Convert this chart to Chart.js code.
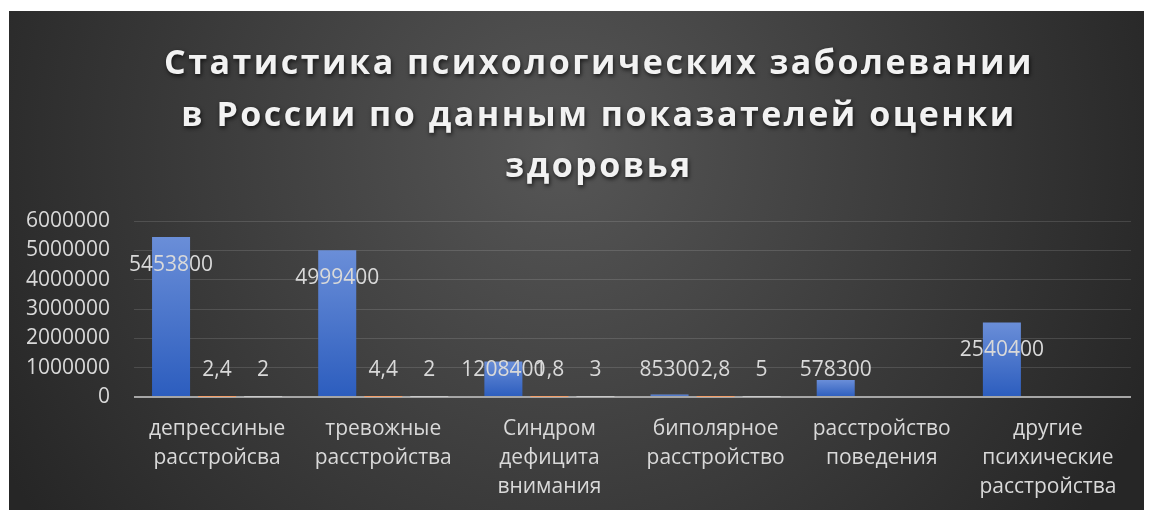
<!DOCTYPE html>
<html><head><meta charset="utf-8">
<script src="https://cdn.jsdelivr.net/npm/chart.js@4.4.1/dist/chart.umd.min.js"></script>
<style>html,body{margin:0;padding:0;background:#fff;} canvas{display:block}</style>
</head><body>
<canvas id="c" width="1149" height="510"></canvas>
<script>
const TITLE_LINES = ['Статистика психологических заболевании', 'в России по данным показателей оценки', 'здоровья'];
const CATEGORIES = [
  ['депрессиные', 'расстройсва'],
  ['тревожные', 'расстройства'],
  ['Синдром', 'дефицита', 'внимания'],
  ['биполярное', 'расстройство'],
  ['расстройство', 'поведения'],
  ['другие', 'психические', 'расстройства']
];
const SERIES1 = [5453800, 4999400, 1208400, 85300, 578300, 2540400];
const SERIES2 = [2.4, 4.4, 1.8, 2.8, null, null];
const SERIES3 = [2, 2, 3, 5, null, null];
const Y_TICK_LABELS = ['0', '1000000', '2000000', '3000000', '4000000', '5000000', '6000000'];
const Y_MIN = 0, Y_MAX = 6000000, Y_STEP = 1000000;

const FONT = '"Open Sans", "DejaVu Sans", sans-serif';
const TEXT_COLOR = '#d9d9d9';

function fmt(v) { return Number.isInteger(v) ? String(v) : String(v).replace('.', ','); }

function barGradient(top, bottom) {
  return function (ctx) {
    const c = ctx.chart;
    if (!c.chartArea || ctx.type !== 'data' || ctx.raw == null) return bottom;
    const ys = c.scales.y;
    const t = ys.getPixelForValue(ctx.raw), b = ys.getPixelForValue(0);
    if (b - t < 2) return top;
    const g = c.ctx.createLinearGradient(0, t, 0, b);
    g.addColorStop(0, top);
    g.addColorStop(1, bottom);
    return g;
  };
}

const panelPlugin = {
  id: 'panel',
  beforeDraw(chart) {
    const ctx = chart.ctx;
    ctx.save();
    ctx.fillStyle = '#ffffff';
    ctx.fillRect(0, 0, chart.width, chart.height);
    const g = ctx.createRadialGradient(560, 150, 0, 560, 150, 640);
    g.addColorStop(0, '#565656');
    g.addColorStop(1, '#262626');
    ctx.fillStyle = g;
    ctx.fillRect(9, 11, 1135, 499);
    ctx.restore();
  }
};

const titlePlugin = {
  id: 'bigTitle',
  afterDraw(chart) {
    const ctx = chart.ctx;
    ctx.save();
    ctx.font = 'bold 34px ' + FONT;
    try { ctx.letterSpacing = '2.5px'; } catch (e) {}
    ctx.textAlign = 'center';
    ctx.textBaseline = 'alphabetic';
    ctx.fillStyle = '#f2f2f2';
    ctx.shadowColor = 'rgba(0,0,0,0.7)';
    ctx.shadowBlur = 4;
    ctx.shadowOffsetX = 1;
    ctx.shadowOffsetY = 2;
    const baselines = [74, 126, 177];
    TITLE_LINES.forEach((t, i) => ctx.fillText(t, 599, baselines[i]));
    ctx.restore();
  }
};

const labelPlugin = {
  id: 'valueLabels',
  afterDatasetsDraw(chart) {
    const ctx = chart.ctx;
    ctx.save();
    ctx.font = '21px ' + FONT;
    ctx.fillStyle = TEXT_COLOR;
    ctx.textAlign = 'center';
    ctx.textBaseline = 'middle';
    chart.data.datasets.forEach((ds, i) => {
      const meta = chart.getDatasetMeta(i);
      meta.data.forEach((el, j) => {
        const v = ds.data[j];
        if (v == null) return;
        const y = Math.min(el.y + 28, el.base - 26);
        ctx.fillText(fmt(v), el.x, y);
      });
    });
    ctx.restore();
  }
};

new Chart(document.getElementById('c'), {
  type: 'bar',
  data: {
    labels: CATEGORIES,
    datasets: [
      { label: 'Ряд 1', data: SERIES1, backgroundColor: barGradient('#6a8ed8', '#2c5dbe') },
      { label: 'Ряд 2', data: SERIES2, backgroundColor: barGradient('#f4a06a', '#e06a1c') },
      { label: 'Ряд 3', data: SERIES3, backgroundColor: barGradient('#c8c8c8', '#9a9a9a') }
    ]
  },
  options: {
    responsive: false,
    animation: false,
    layout: { padding: { top: 221, left: 0, right: 18, bottom: 0 } },
    datasets: { bar: { categoryPercentage: 0.831, barPercentage: 0.826 } },
    plugins: { legend: { display: false }, title: { display: false }, tooltip: { enabled: false } },
    scales: {
      x: {
        grid: { display: false, drawTicks: false },
        border: { display: false },
        ticks: { color: TEXT_COLOR, font: { family: FONT, size: 21, lineHeight: 1.4 }, padding: 17, maxRotation: 0, autoSkip: false },
        afterFit(s) { s.height = 113; }
      },
      y: {
        min: Y_MIN, max: Y_MAX,
        grid: {
          drawTicks: false,
          color: (c) => c.tick && c.tick.value === 0 ? '#a6a6a6' : 'rgba(255,255,255,0.13)',
          lineWidth: (c) => c.tick && c.tick.value === 0 ? 2 : 1
        },
        border: { display: false },
        ticks: {
          stepSize: Y_STEP, color: TEXT_COLOR, font: { family: FONT, size: 21 }, padding: 24,
          callback: (v, i) => Y_TICK_LABELS[i]
        },
        afterFit(s) { s.width = 134; }
      }
    }
  },
  plugins: [panelPlugin, titlePlugin, labelPlugin]
});
</script>
</body></html>
